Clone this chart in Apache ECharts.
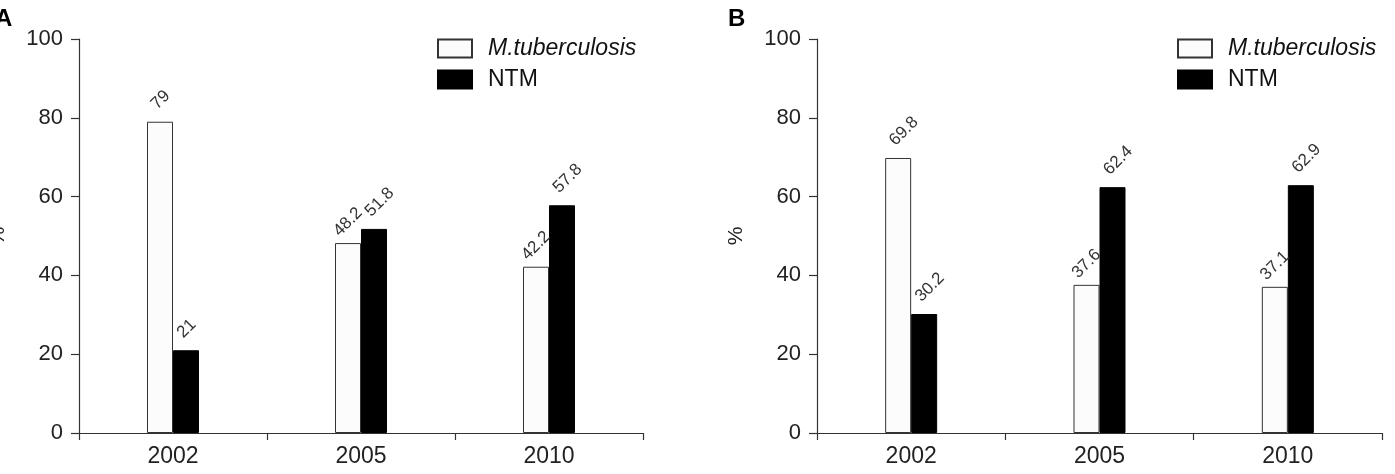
<!DOCTYPE html>
<html>
<head>
<meta charset="utf-8">
<script src="https://cdn.jsdelivr.net/npm/echarts@6/dist/echarts.min.js"></script>
</head>
<body style="margin:0;background:#fff">
<div id="main" style="width:1395px;height:474px;"></div>
<script>
// data
var years = ['2002', '2005', '2010'];
var mtbA = [79, 48.2, 42.2];
var ntmA = [21, 51.8, 57.8];
var mtbB = [69.8, 37.6, 37.1];
var ntmB = [30.2, 62.4, 62.9];
var seriesNames = ['M.tuberculosis', 'NTM'];

var font = 'Liberation Sans, Arial, sans-serif';
var axisColor = '#333';

function xAxis(idx) {
	return {
		type: 'category',
		gridIndex: idx,
		data: years,
		axisLine: { lineStyle: { color: axisColor, width: 1.2 } },
		axisTick: { show: true, length: 7, lineStyle: { color: axisColor, width: 1.2 } },
		axisLabel: { color: '#222', fontSize: 23, fontFamily: font, margin: 12 }
	};
}
function yAxis(idx) {
	return {
		type: 'value',
		gridIndex: idx,
		min: 0, max: 100, interval: 20,
		name: '%',
		nameLocation: 'middle',
		nameGap: 70,
		nameTextStyle: { color: '#222', fontSize: 21, fontFamily: font },
		axisLine: { show: true, lineStyle: { color: axisColor, width: 1.2 } },
		axisTick: { show: true, length: 8, lineStyle: { color: axisColor, width: 1.2 } },
		axisLabel: { color: '#222', fontSize: 22, fontFamily: font, margin: 16 },
		splitLine: { show: false }
	};
}
function barLabel() {
	return {
		show: true,
		position: 'top',
		distance: 9,
		rotate: 45,
		align: 'left',
		verticalAlign: 'bottom',
		color: '#333',
		fontSize: 17,
		fontFamily: font
	};
}
// white bar labels move left when the neighbouring black bar is taller
function whiteData(vals, other) {
	return vals.map(function (v, i) {
		return v < other[i] ? { value: v, label: { offset: [-8, 0] } } : v;
	});
}
function bars(name, data, idx, white) {
	return {
		name: name,
		type: 'bar',
		xAxisIndex: idx,
		yAxisIndex: idx,
		data: data,
		barWidth: 26,
		barGap: '0%',
		itemStyle: white
			? { color: '#fcfcfc', borderColor: '#333', borderWidth: 1 }
			: { color: '#000', borderColor: '#000', borderWidth: 1 },
		label: barLabel()
	};
}
function legend(left) {
	return {
		data: seriesNames,
		orient: 'vertical',
		left: left,
		top: 37,
		padding: 0,
		icon: 'rect',
		itemWidth: 34,
		itemHeight: 18,
		itemGap: 8,
		selectedMode: false,
		formatter: function (n) {
			return n === 'NTM' ? n : '{i|' + n + '}';
		},
		textStyle: {
			color: '#111', fontSize: 23, fontFamily: font, lineHeight: 18, padding: [0, 0, 0, 11],
			rich: { i: { fontStyle: 'italic', fontSize: 23, fontFamily: font, color: '#111' } }
		}
	};
}

var chart = echarts.init(document.getElementById('main'));
var option = {
	animation: false,
	backgroundColor: '#fff',
	title: [
		{ text: 'A', left: -5, top: 7, padding: 0, textStyle: { fontSize: 24, fontWeight: 'bold', fontFamily: font, color: '#000' } },
		{ text: 'B', left: 728, top: 7, padding: 0, textStyle: { fontSize: 24, fontWeight: 'bold', fontFamily: font, color: '#000' } }
	],
	legend: [legend(437), legend(1177)],
	grid: [
		{ left: 79, right: 752, top: 39, bottom: 41, outerBoundsMode: 'none' },
		{ left: 817, right: 13, top: 39, bottom: 41, outerBoundsMode: 'none' }
	],
	xAxis: [xAxis(0), xAxis(1)],
	yAxis: [yAxis(0), yAxis(1)],
	series: [
		bars(seriesNames[0], whiteData(mtbA, ntmA), 0, true),
		bars(seriesNames[1], ntmA, 0, false),
		bars(seriesNames[0], whiteData(mtbB, ntmB), 1, true),
		bars(seriesNames[1], ntmB, 1, false)
	]
};
chart.setOption(option);
</script>
</body>
</html>
